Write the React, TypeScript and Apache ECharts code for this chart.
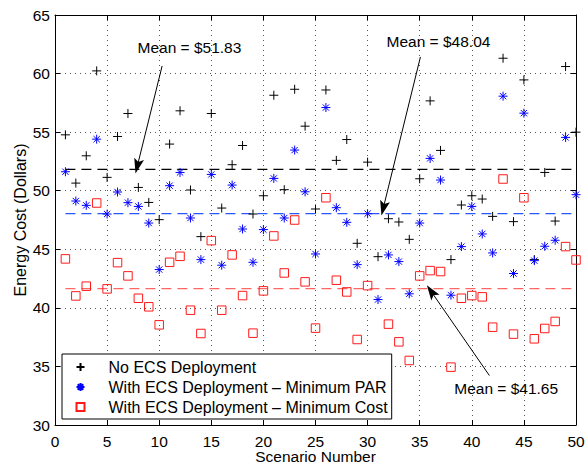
import React, { useEffect, useRef } from "react";
import * as echarts from "echarts";

const scenarios = [1,2,3,4,5,6,7,8,9,10,11,12,13,14,15,16,17,18,19,20,21,22,23,24,25,26,27,28,29,30,31,32,33,34,35,36,37,38,39,40,41,42,43,44,45,46,47,48,49,50];
const noEcs = [54.77,50.65,52.98,60.23,51.14,54.63,56.59,50.28,49.0,47.53,53.98,56.82,50.06,46.08,56.59,48.52,52.22,53.86,48.01,49.57,58.15,50.09,58.66,55.51,48.44,58.6,52.59,54.37,45.51,52.44,44.37,47.61,47.33,45.85,51.02,57.67,53.44,44.12,48.78,49.57,49.29,47.81,61.31,47.36,59.46,44.12,51.56,47.41,60.6,55.0];
const minPar = [51.62,49.12,48.75,54.4,48.01,49.89,48.98,48.66,47.24,43.27,50.43,51.56,47.67,44.12,51.39,43.64,50.48,46.73,43.89,46.68,51.05,47.67,53.47,49.91,44.6,57.1,48.55,47.3,43.69,48.04,40.71,44.52,43.95,41.2,47.24,52.76,50.91,41.08,45.23,48.66,46.31,44.69,58.07,42.93,56.62,44.03,45.26,45.77,54.55,49.66];
const minCost = [44.18,41.02,41.85,48.95,41.62,43.86,42.73,40.82,40.09,38.55,43.89,44.4,39.8,37.81,45.74,39.8,44.52,41.05,37.84,41.45,46.14,42.98,47.5,42.22,38.27,49.4,42.36,41.36,37.3,41.9,34.85,38.61,37.1,35.51,42.73,43.18,43.1,34.94,40.82,41.05,40.94,38.35,51.0,37.76,49.4,37.36,38.24,38.84,45.23,44.09];

const seriesNames = ["No ECS Deployment", "With ECS Deployment \u2013 Minimum PAR", "With ECS Deployment \u2013 Minimum Cost"];
const means = [51.83, 48.04, 41.65];
const meanLabels = ["Mean = $51.83", "Mean = $48.04", "Mean = $41.65"];
// annotation anchor points (data coordinates): text position, arrow start, arrow tip
const labelPos = [[12.9, 62.2], [36.8, 62.7], [43.3, 33.1]];
const arrowFrom = [[10.28, 60.65], [35.07, 61.42], [41.69, 34.22]];
const arrowTo = [[7.9, 52.1], [31.5, 48.5], [36.1, 41.4]];

const FONT = "Liberation Sans, Arial, Helvetica, sans-serif";
const PLUS = "path://M5,0L5,10M0,5L10,5";
const STAR = "path://M5,0L5,10M0,5L10,5M1.5,1.5L8.5,8.5M1.5,8.5L8.5,1.5";
const SQUARE = "path://M0,0L10,0L10,10L0,10Z";
const ARROW = "path://M5,0L10,14L5,11L0,14Z";

export default function App() {
  const ref = useRef<HTMLDivElement>(null);
  useEffect(() => {
    if (!ref.current) return;
    const chart = echarts.init(ref.current, undefined, { renderer: "svg" });
    const colors = ["#000000", "#0000ff", "#ff1a1a"];
    const meanColors = ["#000000", "#2a55ff", "#ff6666"];
    const symbols = [PLUS, STAR, SQUARE];
    const sizes = [9, 9, 8.5];
    const values = [noEcs, minPar, minCost];

    const scatterSeries = values.map((vals, k) => ({
      type: "scatter",
      name: seriesNames[k],
      data: scenarios.map((s, i) => [s, vals[i]]),
      symbol: symbols[k],
      symbolSize: sizes[k],
      itemStyle: { color: "none", borderColor: colors[k], borderWidth: 1, opacity: 1 },
      z: 3,
      markLine: {
        silent: true,
        animation: false,
        label: { show: false },
        symbol: "none",
        lineStyle: { color: "#000", type: "solid", width: 1 },
        data: [
          [
            { coord: arrowFrom[k], symbol: "none" },
            { coord: arrowTo[k], symbol: ARROW, symbolSize: [10, 15], itemStyle: { color: "#000" } },
          ],
        ],
      },
      markPoint: {
        silent: true,
        animation: false,
        data: [
          {
            coord: labelPos[k],
            name: meanLabels[k],
            symbol: "circle",
            symbolSize: 0,
            itemStyle: { color: "transparent" },
            label: { show: true, position: "inside", formatter: "{b}", color: "#000", fontSize: 15.5, fontFamily: FONT },
          },
        ],
      },
    }));

    const meanSeries = means.map((m, k) => ({
      type: "line",
      name: "mean" + k,
      data: [[scenarios[0], m], [scenarios[scenarios.length - 1], m]],
      symbol: "none",
      silent: true,
      z: 2,
      lineStyle: { color: meanColors[k], type: [10, 6], width: 1.2 },
      itemStyle: { color: meanColors[k] },
    }));

    const axisCommon = {
      axisLine: { show: true, onZero: false, lineStyle: { color: "#000", width: 1 } },
      axisTick: { show: true, inside: true, length: 5, lineStyle: { color: "#000" } },
    };

    chart.setOption({
      animation: false,
      backgroundColor: "#fff",
      grid: { left: 55, right: 9, top: 15, bottom: 40, containLabel: false, outerBoundsMode: "none" },
      xAxis: [
        {
          type: "value", min: 0, max: 50, interval: 5, position: "bottom",
          name: "Scenario Number", nameLocation: "middle", nameGap: 24, nameMoveOverlap: false,
          nameTextStyle: { fontSize: 15.5, lineHeight: 15, color: "#000", fontFamily: FONT },
          axisLabel: { fontSize: 15.5, lineHeight: 14, color: "#000", fontFamily: FONT, margin: 9 },
          splitLine: { show: true, lineStyle: { color: "#555", type: [1, 4], width: 1 } },
          ...axisCommon,
        },
        {
          type: "value", min: 0, max: 50, interval: 5, position: "top",
          axisLabel: { show: false }, splitLine: { show: false },
          ...axisCommon,
        },
      ],
      yAxis: [
        {
          type: "value", min: 30, max: 65, interval: 5, position: "left",
          name: "Energy Cost (Dollars)", nameLocation: "middle", nameGap: 27, nameMoveOverlap: false,
          nameTextStyle: { fontSize: 16, color: "#000", fontFamily: FONT },
          axisLabel: { fontSize: 15.5, color: "#000", fontFamily: FONT, margin: 5 },
          splitLine: { show: true, lineStyle: { color: "#555", type: [1, 4], width: 1 } },
          ...axisCommon,
        },
        {
          type: "value", min: 30, max: 65, interval: 5, position: "right",
          axisLabel: { show: false }, splitLine: { show: false },
          ...axisCommon,
        },
      ],
      legend: {
        data: seriesNames,
        orient: "vertical",
        left: 62,
        top: 354,
        padding: [5, 4, 4, 12],
        itemWidth: 46,
        itemHeight: 8,
        itemGap: 4,
        backgroundColor: "#fff",
        borderColor: "#000",
        borderWidth: 1,
        borderRadius: 0,
        textStyle: { fontSize: 16, color: "#000", fontFamily: FONT, lineHeight: 16 },
        selectedMode: false,
      },
      series: [...meanSeries, ...scatterSeries],
    });
    return () => chart.dispose();
  }, []);
  return <div ref={ref} style={{ position: "fixed", left: 0, top: 0, width: 585, height: 465 }} />;
}
